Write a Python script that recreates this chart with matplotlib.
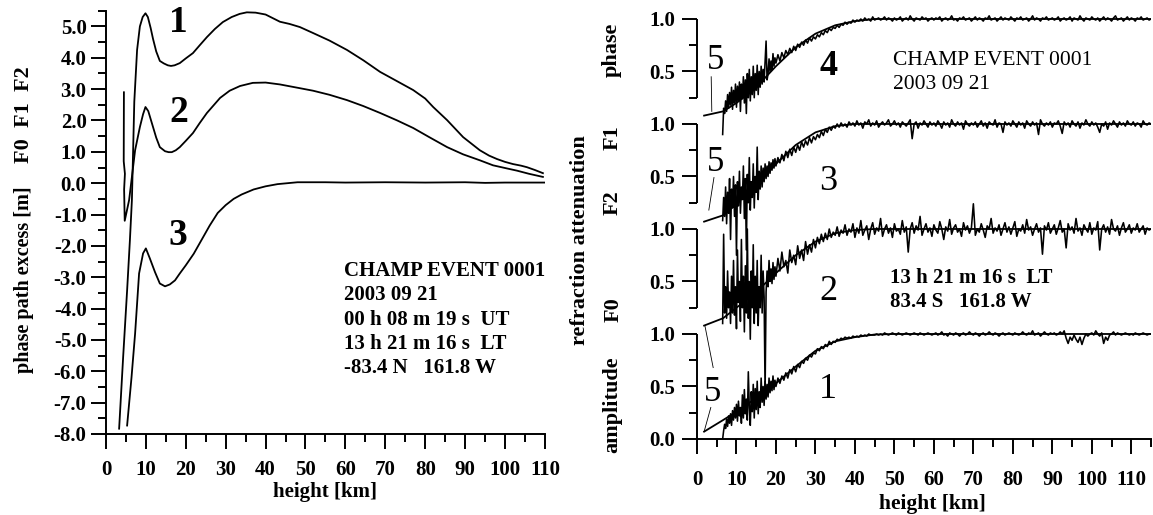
"""CHAMP event 0001: phase path excess and refraction attenuation versus height."""

import matplotlib

matplotlib.use("Agg")
import matplotlib.pyplot as plt
import numpy as np
from matplotlib.ticker import FixedLocator, MultipleLocator

# ---- left panel: phase path excess [m] -------------------------------------
curve1_height = [3.3, 4.3, 5.3, 6.0, 6.5, 6.8, 7.1, 7.8, 8.5, 9.2, 9.9, 10.5,
                 11.2, 11.8, 12.6, 13.5, 14.5, 15.5, 16.3, 17.2, 18.5, 20.0,
                 21.8, 23.5, 25.3, 27.3, 29.3, 31.5, 33.5, 35.3, 37.5, 40.0,
                 43.6, 46.0, 48.6, 51.9, 56.0, 60.4, 64.5, 68.7, 73.0, 77.0,
                 80.0, 82.0, 85.5, 89.5, 93.7, 96.0, 98.0, 100.0, 102.0,
                 104.0, 105.5, 107.5, 109.5]
curve1_excess = [-7.83, -5.56, -3.42, -1.82, -0.54, 1.0, 2.6, 4.25, 5.0, 5.3,
                 5.42, 5.3, 4.95, 4.6, 4.2, 3.9, 3.82, 3.76, 3.74, 3.76, 3.83,
                 3.98, 4.15, 4.4, 4.66, 4.92, 5.14, 5.3, 5.4, 5.45, 5.44, 5.38,
                 5.15, 5.08, 4.98, 4.79, 4.55, 4.25, 3.92, 3.55, 3.25, 2.97,
                 2.7, 2.43, 2.01, 1.47, 1.05, 0.88, 0.77, 0.68, 0.61, 0.56,
                 0.51, 0.42, 0.32]

curve2_height = [4.5, 4.45, 4.75, 4.55, 4.7, 5.2, 5.8, 6.5, 7.3, 8.5, 9.3,
                 9.9, 10.6, 11.8, 12.6, 13.5, 14.8, 15.7, 16.5, 17.5, 18.5,
                 20.0, 21.8, 23.5, 25.3, 28.6, 31.0, 33.6, 36.8, 40.0, 43.6,
                 48.6, 51.9, 56.0, 60.4, 64.5, 68.7, 73.0, 77.0, 81.0, 85.5,
                 89.5, 93.7, 97.0, 100.5, 103.0, 106.0, 109.5]
curve2_excess = [2.9, 0.7, 0.3, -0.2, -1.2, -0.9, -0.54, 0.2, 1.05, 1.79,
                 2.2, 2.43, 2.3, 1.79, 1.45, 1.15, 1.02, 0.99, 0.99, 1.05,
                 1.15, 1.35, 1.6, 1.92, 2.24, 2.72, 2.95, 3.1, 3.2, 3.21,
                 3.15, 3.03, 2.95, 2.82, 2.65, 2.46, 2.24, 2.0, 1.76, 1.47,
                 1.15, 0.92, 0.73, 0.57, 0.47, 0.4, 0.3, 0.2]

curve3_height = [5.3, 6.4, 7.3, 8.3, 9.3, 10.0, 11.0, 12.3, 13.5, 14.8, 16.0,
                 17.3, 18.5, 20.0, 22.0, 24.0, 26.0, 28.0, 30.0, 32.0, 34.0,
                 37.0, 40.0, 43.0, 48.0, 55.0, 60.0, 70.0, 80.0, 90.0, 95.0,
                 100.0, 110.0]
curve3_excess = [-7.73, -6.2, -4.8, -2.88, -2.24, -2.08, -2.4, -2.84, -3.2,
                 -3.29, -3.23, -3.1, -2.88, -2.62, -2.25, -1.8, -1.35, -0.95,
                 -0.7, -0.5, -0.36, -0.2, -0.1, -0.03, 0.03, 0.03, 0.02, 0.03,
                 0.02, 0.03, 0.01, 0.02, 0.02]

event_lines_left = ["CHAMP EVENT 0001", "2003 09 21", "00 h 08 m 19 s  UT",
                    "13 h 21 m 16 s  LT", "-83.4 N   161.8 W"]

# ---- right panel: refraction attenuation (values x100) ----------------------
# each series is drawn shifted by its panel offset
panel_offsets = {"amplitude": 0, "F0": 1, "F1": 2, "phase": 3}

model_height = [1.8, 6.6, 10, 15, 20, 25, 30, 35, 40, 45, 50, 115]
model_amplitude = [7, 18, 26, 39, 53, 69, 84, 93, 97, 99.5, 100, 100]
model_f0 = [8, 15, 25, 40, 58, 75, 88, 96, 99, 100, 100, 100]
model_f1 = [7, 13, 24, 42, 62, 80, 92, 98, 100, 100, 100, 100]
model_phase = [8, 12, 20, 35, 55, 73, 86, 94, 98, 100, 100, 100]

# observed: 6.5-19.75 km every 0.25 km, then 20-115 km every 0.5 km
obs_height = np.concatenate([np.arange(6.5, 20.0, 0.25),
                             np.arange(20.0, 115.01, 0.5)])

obs_amplitude = [
    0, 8, 14, 10, 19, 12, 22, 15, 24, 13,
    27, 18, 30, 20, 33, 17, 36, 22, 30, 15,
    42, 20, 47, 24, 38, 18, 64, 30, 13, 45,
    26, 52, 20, 48, 28, 55, 24, 45, 30, 58,
    35, 50, 32, 55, 38, 52, 40, 58, 44, 55,
    46, 60, 47, 56,
    50, 58, 53, 60, 56, 63, 58, 66, 62, 69, 64, 71, 68, 74, 72, 77, 75, 80, 78, 82,
    81, 86, 84, 88, 86, 90, 88, 93, 90, 93, 92, 95, 94, 96, 95, 97, 96, 97, 96, 98,
    97, 98, 97, 99, 98, 99, 98, 100, 99, 99, 99, 100, 99, 100, 99, 101, 100, 99, 100, 101,
    100, 99, 101, 100, 99, 100, 101, 100, 99, 100, 101, 100, 99, 101, 100, 99, 100, 101, 100, 99,
    100, 101, 99, 100, 102, 99, 100, 98, 101, 100, 99, 101, 100, 98, 100, 101, 99, 100, 102, 100,
    99, 101, 100, 98, 100, 101, 99, 100, 102, 100, 99, 101, 100, 98, 100, 101, 99, 100, 101, 100,
    99, 101, 100, 99, 100, 102, 100, 99, 101, 100, 103, 99, 100, 101, 98, 100, 102, 100, 99, 101,
    100, 101, 99, 100, 102, 100, 103, 96, 91, 97, 94, 99, 95, 92, 97, 90, 96, 100, 98, 100,
    101, 99, 103, 100, 98, 101, 91, 97, 94, 99, 100, 102, 99, 101, 100, 99, 100, 101, 100, 99,
    100, 99, 101, 100, 99, 100, 101, 100, 99, 100, 100,
]

obs_f0 = [
    10, 95, 20, 45, 15, 60, 25, 40, 10, 55,
    20, 70, 18, 45, 5, 80, 30, 50, 12, 90,
    25, 55, 2, 65, 20, 100, 15, 50, -5, 60,
    25, 85, 10, 55, 20, 70, 8, 45, 25, 75,
    20, 60, 35, -55, 40, 60, 45, 70, 50, 62,
    48, 68, 52, 64,
    55, 72, 60, 78, 64, 70, 58, 80, 68, 75, 66, 84, 72, 80, 70, 88, 76, 85, 78, 90,
    82, 92, 86, 95, 88, 96, 90, 100, 92, 97, 94, 102, 93, 99, 96, 104, 94, 100, 97, 105,
    92, 101, 96, 108, 94, 99, 103, 90, 100, 106, 95, 101, 98, 110, 93, 100, 104, 96, 101, 92,
    105, 98, 100, 95, 108, 97, 102, 78, 100, 106, 96, 103, 99, 112, 94, 100, 105, 97, 101, 93,
    104, 99, 96, 107, 100, 90, 102, 98, 109, 95, 101, 104, 97, 100, 93, 106, 99, 103, 96, 101,
    124, 94, 100, 97, 105, 99, 92, 103, 100, 110, 96, 101, 98, 104, 94, 100, 106, 97, 102, 95,
    101, 107, 93, 100, 98, 104, 96, 109, 99, 102, 94, 100, 105, 97, 101, 76, 103, 99, 106, 96,
    100, 104, 95, 101, 108, 97, 100, 82, 105, 99, 102, 96, 110, 98, 101, 94, 104, 100, 97, 106,
    95, 101, 99, 107, 80, 100, 104, 97, 102, 95, 109, 100, 98, 103, 94, 101, 106, 97, 100, 104,
    96, 101, 99, 105, 97, 100, 103, 95, 101, 99, 100,
]

obs_f1 = [
    8, 30, 12, 40, 5, 35, 15, 48, -10, 38,
    20, 50, 12, 42, -25, 45, 22, 55, 15, 40,
    28, 60, 10, 48, -20, 52, 25, 68, 18, 45,
    30, 62, 20, 50, 35, 78, 28, 55, 38, 60,
    40, 58, 45, 62, 48, 60, 50, 64, 53, 63,
    56, 66, 58, 67,
    60, 68, 63, 71, 65, 74, 68, 76, 70, 78, 73, 80, 75, 83, 78, 84, 80, 87, 82, 88,
    85, 90, 87, 93, 89, 95, 92, 97, 94, 98, 96, 100, 97, 101, 98, 100, 97, 102, 99, 101,
    98, 103, 99, 101, 96, 102, 100, 104, 98, 101, 99, 103, 97, 100, 102, 99, 101, 104, 98, 100,
    103, 99, 101, 97, 102, 100, 98, 101, 104, 86, 100, 102, 96, 101, 99, 103, 100, 97, 102, 99,
    101, 98, 103, 100, 96, 102, 99, 101, 97, 104, 100, 98, 102, 99, 101, 95, 103, 100, 98, 101,
    99, 102, 97, 100, 103, 98, 101, 96, 102, 100, 99, 104, 97, 101, 100, 92, 102, 99, 101, 98,
    103, 100, 97, 102, 99, 101, 96, 103, 100, 98, 102, 99, 101, 90, 104, 100, 98, 101, 99, 102,
    97, 101, 100, 103, 98, 91, 102, 99, 101, 97, 103, 100, 98, 102, 96, 101, 99, 104, 100, 98,
    102, 99, 101, 97, 92, 100, 98, 102, 95, 101, 99, 103, 100, 97, 102, 99, 101, 98, 103, 100,
    99, 102, 98, 101, 100, 97, 103, 100, 99, 101, 100,
]

obs_phase = [
    -10, 15, 10, 22, 12, 28, 15, 30, 18, 35,
    14, 32, 20, 38, 16, 36, 22, 40, 12, 38,
    24, 45, 20, 42, 10, 48, 25, 52, 22, 45,
    28, 55, 25, 48, 32, 56, 28, 50, 35, 55,
    38, 52, 40, 60, 79, 42, 48, 62, 50, 60,
    52, 67, 55, 63,
    58, 66, 60, 68, 63, 70, 66, 72, 68, 74, 70, 76, 73, 78, 75, 80, 77, 82, 79, 83,
    81, 85, 83, 87, 85, 89, 87, 91, 89, 92, 91, 94, 92, 95, 94, 97, 95, 97, 96, 99,
    97, 99, 98, 100, 98, 101, 99, 100, 98, 102, 99, 100, 101, 99, 100, 102, 99, 101, 100, 98,
    101, 99, 100, 102, 98, 100, 101, 99, 103, 100, 98, 101, 100, 99, 102, 100, 101, 98, 100, 101,
    99, 101, 100, 102, 98, 100, 101, 99, 100, 103, 99, 100, 98, 101, 100, 102, 99, 100, 101, 98,
    100, 102, 99, 101, 100, 98, 101, 100, 103, 99, 100, 101, 98, 100, 102, 99, 101, 100, 99, 102,
    100, 98, 101, 100, 102, 99, 100, 101, 98, 100, 103, 99, 101, 100, 98, 101, 100, 102, 99, 100,
    101, 99, 100, 102, 98, 100, 101, 99, 100, 102, 98, 101, 100, 99, 103, 100, 98, 101, 100, 99,
    102, 100, 99, 101, 98, 100, 102, 99, 101, 100, 98, 101, 103, 99, 100, 101, 98, 100, 102, 99,
    101, 100, 98, 101, 100, 102, 99, 100, 101, 99, 100,
]

event_lines_right_top = ["CHAMP EVENT 0001", "2003 09 21"]
event_lines_right_mid = ["13 h 21 m 16 s  LT", "83.4 S   161.8 W"]

SERIF = "Liberation Serif"
plt.rcParams["font.family"] = [SERIF, "DejaVu Serif"]
plt.rcParams["font.weight"] = "bold"
plt.rcParams["axes.unicode_minus"] = False


def style_axis(ax, label_pad_x, label_pad_y):
    for side in ("top", "right"):
        ax.spines[side].set_visible(False)
    for side in ("left", "bottom"):
        ax.spines[side].set_linewidth(1.4)
    ax.tick_params(which="major", direction="out", length=11, width=1.4,
                   labelsize=15)
    ax.tick_params(which="minor", direction="out", length=6, width=1.4)
    ax.tick_params(axis="x", which="major", pad=label_pad_x)
    ax.tick_params(axis="y", which="major", pad=label_pad_y)


def draw_phase_excess(fig):
    ax = fig.add_axes([0.0919, 0.1573, 0.3807, 0.8218])
    ax.plot(curve1_height, curve1_excess, color="black", lw=1.3)
    ax.plot(curve2_height, curve2_excess, color="black", lw=1.3)
    ax.plot(curve3_height, curve3_excess, color="black", lw=1.3)

    ax.set_xlim(0, 110)
    ax.set_ylim(-8, 5.5)
    ax.xaxis.set_major_locator(MultipleLocator(10))
    ax.xaxis.set_minor_locator(MultipleLocator(5))
    ax.yaxis.set_major_locator(MultipleLocator(1))
    ax.yaxis.set_minor_locator(MultipleLocator(0.5))
    ax.yaxis.set_major_formatter("{x:.1f}")
    style_axis(ax, label_pad_x=8, label_pad_y=3)

    for label, (x, y) in zip(["1", "2", "3"],
                             [(18.2, 5.14), (18.2, 2.24), (18.0, -1.66)]):
        ax.text(x, y, label, fontsize=27, fontweight="bold",
                ha="center", va="center")

    for i, line in enumerate(event_lines_left):
        ax.text(59.6, -2.81 - 0.77 * i, line, fontsize=15,
                fontweight="bold", ha="left", va="center")

    fig.text(0.282, 0.045, "height [km]", fontsize=15, fontweight="bold",
             ha="center", va="center")
    fig.text(0.021, 0.456, "phase path excess [m]", fontsize=14.5,
             fontweight="bold", rotation=90, ha="center", va="center")
    fig.text(0.021, 0.777, "F0  F1  F2", fontsize=16, fontweight="bold",
             rotation=90, ha="center", va="center")


def draw_attenuation(fig):
    ax = fig.add_axes([0.6045, 0.1476, 0.3938, 0.8461])

    series = [
        ("amplitude", model_amplitude, obs_amplitude),
        ("F0", model_f0, obs_f0),
        ("F1", model_f1, obs_f1),
        ("phase", model_phase, obs_phase),
    ]
    for name, model, obs in series:
        offset = panel_offsets[name]
        ax.plot(model_height, np.array(model) / 100 + offset,
                color="black", lw=1.3)
        ax.plot(obs_height, np.array(obs) / 100 + offset,
                color="black", lw=1.15)

    ax.set_xlim(0, 115)
    ax.set_ylim(0, 4.15)
    ax.xaxis.set_major_locator(FixedLocator(np.arange(0, 111, 10)))
    ax.xaxis.set_minor_locator(FixedLocator(np.arange(5, 116, 10)))
    ax.yaxis.set_major_locator(FixedLocator(np.arange(0, 4.01, 0.5)))
    ax.yaxis.set_minor_locator(FixedLocator(np.arange(0.25, 4.0, 0.5)))
    ax.set_yticklabels(["0.0", "0.5", "1.0", "0.5", "1.0",
                        "0.5", "1.0", "0.5", "1.0"])
    style_axis(ax, label_pad_x=11, label_pad_y=5)

    # the left axis is drawn as one bracket per sub-panel
    ax.spines["left"].set_visible(False)
    for low, high in [(0, 1), (1.25, 2), (2.25, 3), (3.25, 4)]:
        ax.plot([0, 0], [low, high], color="black", lw=1.4, clip_on=False,
                solid_capstyle="butt")

    # "5" marks the model curve below the data start
    pointer_lines = [
        ([3.6, 3.75], [3.45, 3.12]),
        ([4.3, 3.0], [2.49, 2.18]),
        ([4.1, 2.0], [0.68, 1.08]),
        ([3.5, 1.8], [0.30, 0.07]),
    ]
    for xs, ys in pointer_lines:
        ax.plot(xs, ys, color="black", lw=0.6)
    for x, y in [(4.6, 3.6), (4.6, 2.63), (4.0, 0.44)]:
        ax.text(x, y, "5", fontsize=25, fontweight="normal",
                ha="center", va="center")

    for label, y, weight in [("4", 3.55, "bold"), ("3", 2.45, "normal"),
                             ("2", 1.4, "normal"), ("1", 0.47, "normal")]:
        ax.text(33.2, y, label, fontsize=26, fontweight=weight,
                ha="center", va="center")

    for i, line in enumerate(event_lines_right_top):
        ax.text(49.6, 3.6 - 0.22 * i, line, fontsize=15.5,
                fontweight="normal", ha="left", va="center")
    for i, line in enumerate(event_lines_right_mid):
        ax.text(48.9, 1.53 - 0.23 * i, line, fontsize=15,
                fontweight="bold", ha="left", va="center")

    fig.text(0.809, 0.022, "height [km]", fontsize=15.5, fontweight="bold",
             ha="center", va="center")
    side_labels = [
        ("phase", 0.531, 0.903),
        ("F1", 0.531, 0.732),
        ("F2", 0.531, 0.606),
        ("F0", 0.532, 0.398),
        ("amplitude", 0.531, 0.214),
        ("refraction attenuation", 0.503, 0.534),
    ]
    for text, x, y in side_labels:
        fig.text(x, y, text, fontsize=16, fontweight="bold", rotation=90,
                 ha="center", va="center")


def main() -> None:
    fig = plt.figure(figsize=(11.53, 5.15), dpi=100)
    draw_phase_excess(fig)
    draw_attenuation(fig)
    fig.savefig("out.png", dpi=100)
    plt.close(fig)


if __name__ == "__main__":
    main()
